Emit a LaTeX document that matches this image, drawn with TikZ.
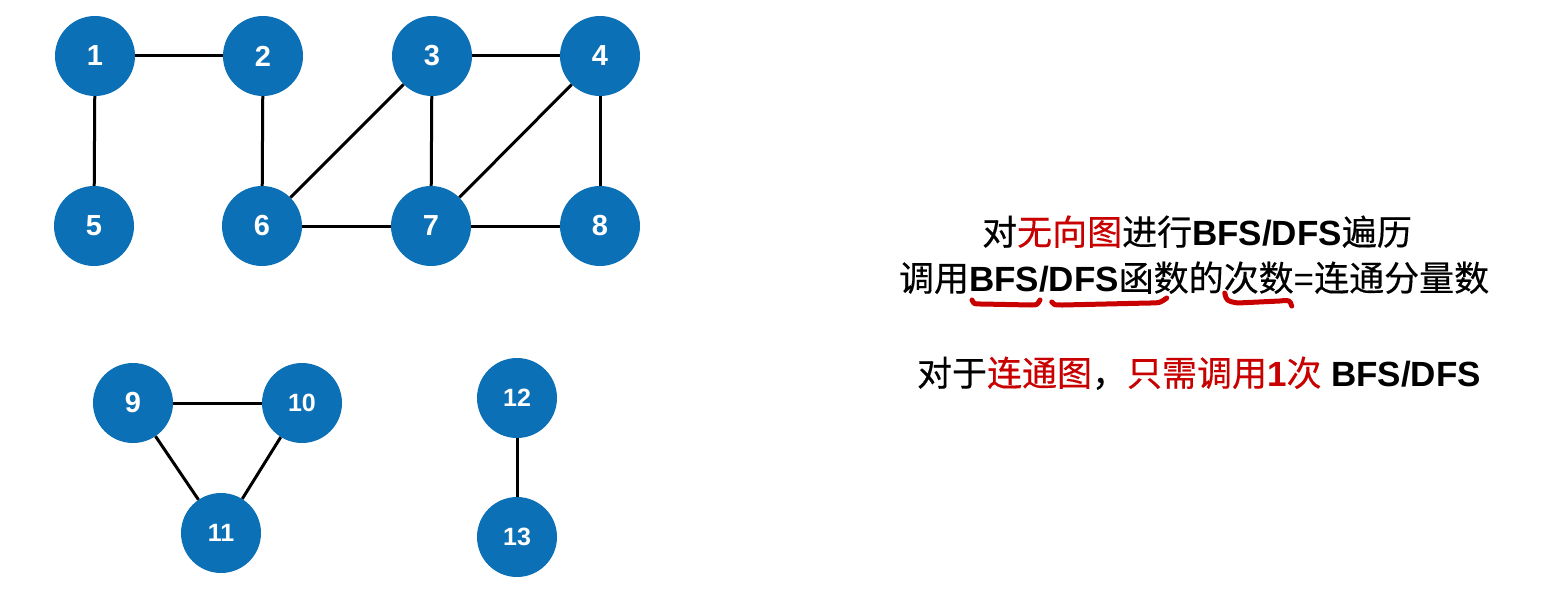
\documentclass[tikz,border=0pt]{standalone}
\usepackage{fontspec}
\setmainfont{Liberation Sans}
\newfontfamily\cjk[FakeBold=0.4]{Noto Sans CJK SC}
\definecolor{nodeblue}{RGB}{12,112,182}
\definecolor{hlred}{RGB}{200,0,0}
\begin{document}
\begin{tikzpicture}[x=1pt,y=-1pt,
  vert/.style={circle,fill=nodeblue,minimum size=80pt,inner sep=0pt,text=white,font=\fontsize{29}{29}\selectfont\bfseries},
  vertb/.style={vert,font=\fontsize{25}{25}\selectfont\bfseries},
  edge/.style={line width=3pt,black},
  txt/.style={font=\fontsize{35}{40}\selectfont,inner sep=0pt,outer sep=0pt},
  piece/.style={txt,anchor=base west},
  squig/.style={hlred,line width=5pt,line cap=round,line join=round}]
\useasboundingbox[fill=white] (0,0) rectangle (1548,594);

\coordinate (p1) at (95,56);
\coordinate (p2) at (263,56);
\coordinate (p3) at (432,56);
\coordinate (p4) at (600,56);
\coordinate (p5) at (94,226);
\coordinate (p6) at (262,226);
\coordinate (p7) at (431,226);
\coordinate (p8) at (600,226);
\coordinate (p9) at (133,403);
\coordinate (p10) at (302,403);
\coordinate (p11) at (221,533);
\coordinate (p12) at (517,398);
\coordinate (p13) at (517,537);

% vertices
\node[vert] (v1) at (p1) {1};
\node[vert] (v2) at (p2) {2};
\node[vert] (v3) at (p3) {3};
\node[vert] (v4) at (p4) {4};
\node[vert] (v5) at (p5) {5};
\node[vert] (v6) at (p6) {6};
\node[vert] (v7) at (p7) {7};
\node[vert] (v8) at (p8) {8};
\node[vert] (v9) at (p9) {9};
\node[vertb] (v10) at (p10) {10};
\node[vertb] (v11) at (p11) {11};
\node[vertb] (v12) at (p12) {12};
\node[vertb] (v13) at (p13) {13};

% edges
\draw[edge] (v1) -- (v2);
\draw[edge] (v1) -- (v5);
\draw[edge] (v2) -- (v6);
\draw[edge] (v3) -- (v4);
\draw[edge] (v3) -- (v6);
\draw[edge] (v3) -- (v7);
\draw[edge] (v4) -- (v7);
\draw[edge] (v4) -- (v8);
\draw[edge] (v6) -- (v7);
\draw[edge] (v7) -- (v8);
\draw[edge] (v9) -- (v10);
\draw[edge] (v9) -- (v11);
\draw[edge] (v10) -- (v11);
\draw[edge] (v12) -- (v13);

% line 1
\node[txt,anchor=base] (l1) at (1197,245) {{\cjk 对}{\cjk\color{hlred}无向图}{\cjk 进行}\textbf{BFS/DFS}{\cjk 遍历}};

% line 2 built from pieces
\node[piece] (a1) at (899,291) {\cjk 调用};
\node[piece] (a2) at (a1.base east) {\bfseries BFS};
\node[piece] (a3) at (a2.base east) {\bfseries /};
\node[piece] (a4) at (a3.base east) {\bfseries DFS};
\node[piece] (a5) at (a4.base east) {\cjk 函};
\node[piece] (a6) at (a5.base east) {\cjk 数};
\node[piece] (a7) at (a6.base east) {\cjk 的};
\node[piece] (a8) at (a7.base east) {\cjk 次数};
\node[piece] (a9) at (a8.base east) {=};
\node[piece] (a10) at (a9.base east) {\cjk 连通分量数};

% squiggly underlines
\draw[squig] ([shift={(3,9)}]a2.base west) .. controls ([shift={(5,13)}]a2.base west) .. ([shift={(12,13)}]a2.base west)
  -- ([shift={(-8,14)}]a2.base east) .. controls ([shift={(-2,14)}]a2.base east) .. ([shift={(1,9)}]a2.base east);
\draw[squig] ([shift={(3,11)}]a4.base west) .. controls ([shift={(5,14)}]a4.base west) .. ([shift={(14,14)}]a4.base west)
  -- ([shift={(-4,12)}]a6.base west) .. controls ([shift={(6,12)}]a6.base west) .. ([shift={(13,7)}]a6.base west);
\draw[squig] ([shift={(1,2)}]a8.base west) .. controls ([shift={(3,10)}]a8.base west) .. ([shift={(14,12)}]a8.base west)
  -- ([shift={(-14,10)}]a8.base east) .. controls ([shift={(-4,9)}]a8.base east) .. ([shift={(-2,15)}]a8.base east);

% line 3
\node[txt,anchor=base] (l3) at (1199,386) {{\cjk 对于}{\cjk\color{hlred}连通图}{\cjk ，}{\cjk\color{hlred}只需调用}{\color{hlred}\bfseries 1}{\cjk\color{hlred}次} \textbf{BFS/DFS}};
\end{tikzpicture}
\end{document}
